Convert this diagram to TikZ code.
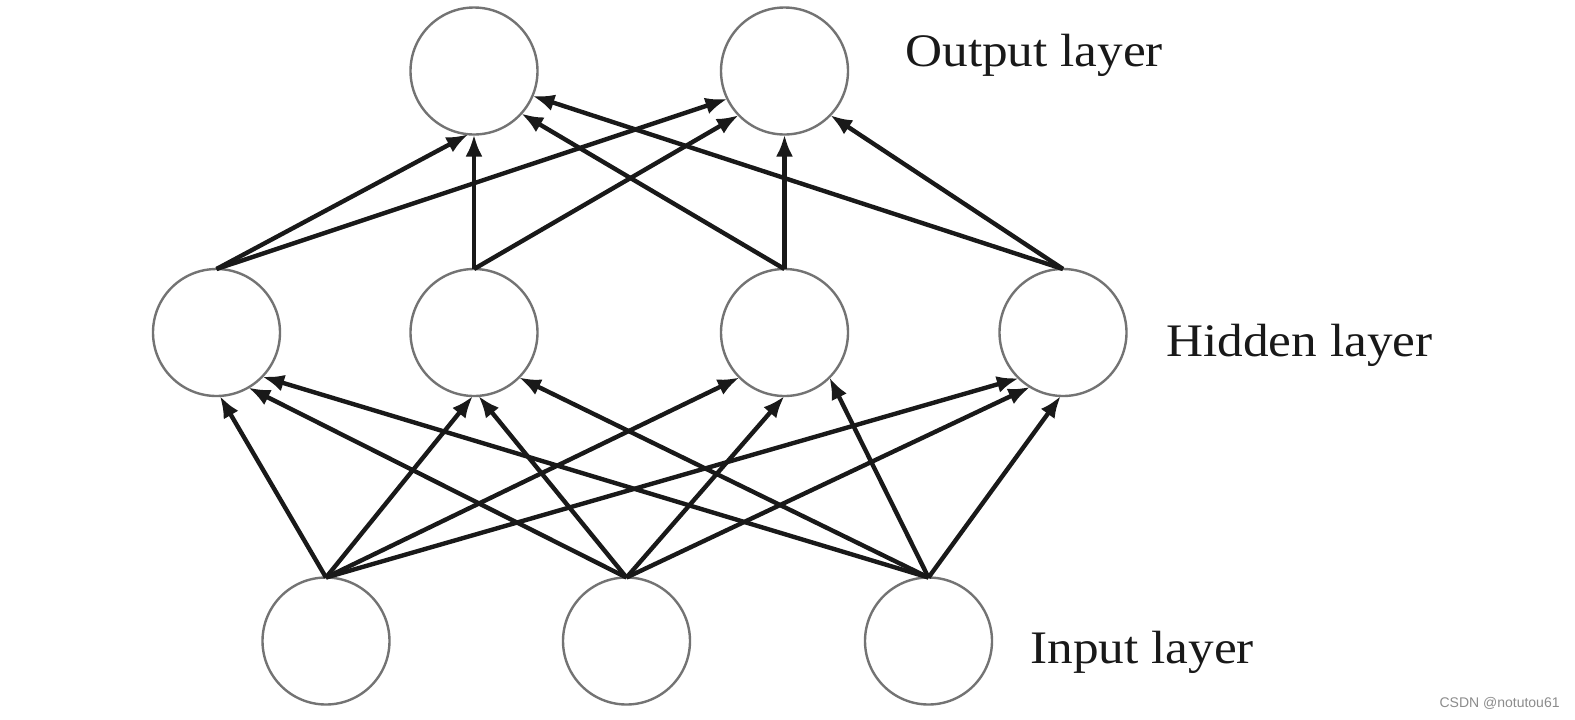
\documentclass[tikz,border=0pt]{standalone}
\usepackage{fontspec}
\setmainfont[FakeStretch=1.1]{Liberation Serif}
\newfontfamily\wmfont{Liberation Sans}
\usetikzlibrary{arrows.meta}
\begin{document}
\begin{tikzpicture}[x=0.5pt,y=-0.5pt,
  neuron/.style={circle,draw=black!55,line width=1.2pt,inner sep=0pt,outer sep=0pt,minimum size=63.5pt},
  conn/.style={line width=2.2pt,draw=black!90,-{Latex[length=11pt,width=8.5pt]}},
  lbl/.style={anchor=base west,inner sep=0pt,font=\fontsize{23.3}{27}\selectfont,text=black!90}]
\path[fill=white,use as bounding box] (0,0) rectangle (1575,719);
% nodes
\node[neuron] (o1) at (474,71) {};
\node[neuron] (o2) at (784.5,71) {};
\node[neuron] (h1) at (216.5,332.5) {};
\node[neuron] (h2) at (474,332.5) {};
\node[neuron] (h3) at (784.5,332.5) {};
\node[neuron] (h4) at (1063,332.5) {};
\node[neuron] (i1) at (326,641) {};
\node[neuron] (i2) at (626.5,641) {};
\node[neuron] (i3) at (928.5,641) {};
% labels
\node[lbl] (lo) at (905,66) {Output layer};
\node[lbl] (lh) at (1166,356) {Hidden layer};
\node[lbl] (li) at (1030,663) {Input layer};
\node[anchor=base east,inner sep=0pt,font=\wmfont\fontsize{7}{8}\selectfont,text=black!45] (wm) at (1560,707) {CSDN @notutou61};
% input -> hidden
\draw[conn] (i1.north) -- (h1.-87);
\draw[conn] (i2.north) -- (h1.-60);
\draw[conn] (i3.north) -- (h1.-44);
\draw[conn] (i1.north) -- (h2.-91);
\draw[conn] (i2.north) -- (h2.-86);
\draw[conn] (i3.north) -- (h2.-45);
\draw[conn] (i1.north) -- (h3.-135);
\draw[conn] (i2.north) -- (h3.-90);
\draw[conn] (i3.north) -- (h3.-45);
\draw[conn] (i1.north) -- (h4.-134);
\draw[conn] (i2.north) -- (h4.-121);
\draw[conn] (i3.north) -- (h4.-92);
% hidden -> output
\draw[conn] (h1.north) -- (o1.-95);
\draw[conn] (h2.north) -- (o1.-90);
\draw[conn] (h3.north) -- (o1.-42);
\draw[conn] (h4.north) -- (o1.-23);
\draw[conn] (h1.north) -- (o2.-154);
\draw[conn] (h2.north) -- (o2.-136);
\draw[conn] (h3.north) -- (o2.-90);
\draw[conn] (h4.north) -- (o2.-44);
\end{tikzpicture}
\end{document}
